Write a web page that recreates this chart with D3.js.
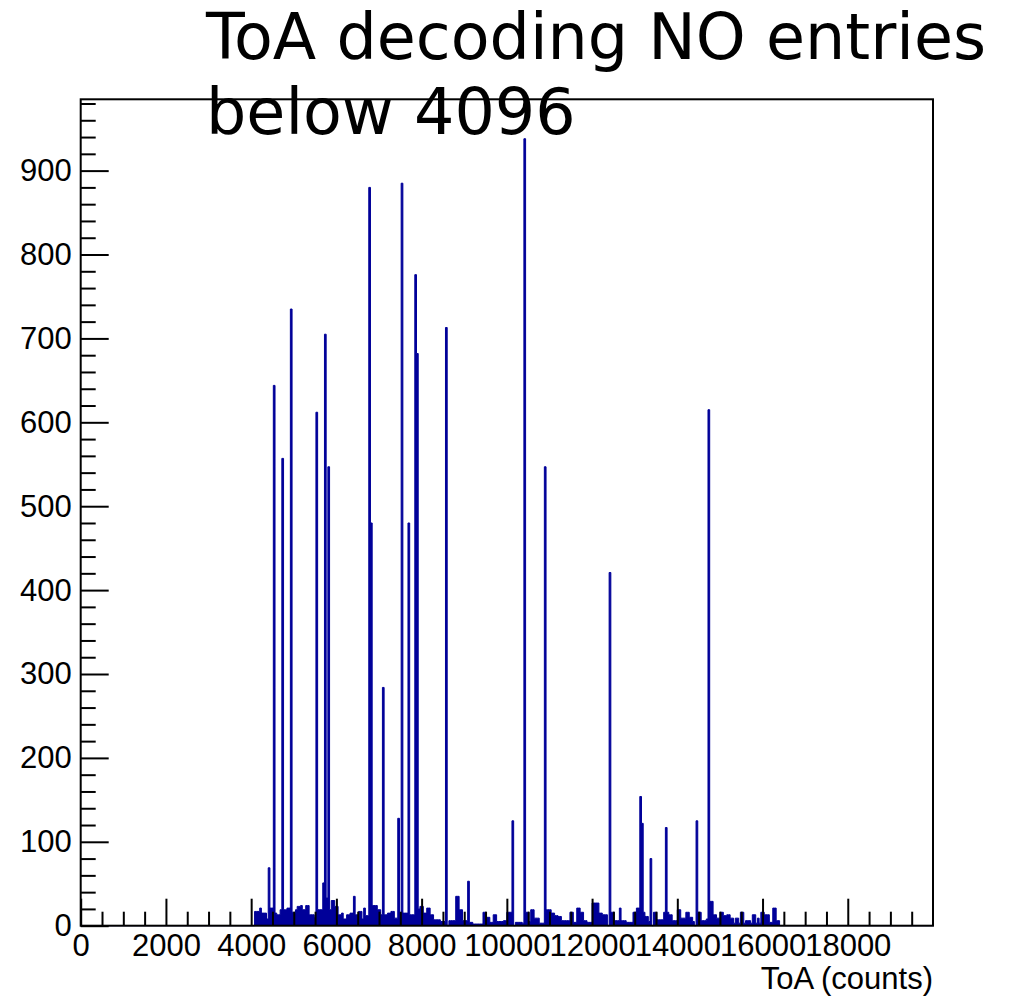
<!DOCTYPE html>
<html>
<head>
<meta charset="utf-8">
<script src="https://cdn.jsdelivr.net/npm/d3@7"></script>
<style>
  html, body { margin: 0; padding: 0; background: #fff; }
  svg { display: block; }
</style>
</head>
<body>
<div id="chart"></div>
<script>
// ---------------- data ----------------
const titleLines = ["ToA decoding NO entries", "below 4096"];
const xAxisTitle = "ToA (counts)";
const xRange = [0, 20000];
const yRange = [0, 985];
const binWidth = 40;
const xMajorTicks = [0, 2000, 4000, 6000, 8000, 10000, 12000, 14000, 16000, 18000];
const yMajorTicks = [0, 100, 200, 300, 400, 500, 600, 700, 800, 900];

// Prominent peaks: [ToA count, entries]
const peaks = [
  [4419, 69], [4520, 644], [4732, 557], [4943, 735], [5523, 612], [5694, 51],
  [5727, 705], [5828, 547], [6774, 880], [6820, 480], [7088, 284], [7455, 128],
  [7557, 885], [7712, 480], [7870, 776], [7910, 682], [8590, 713], [9114, 53],
  [10153, 125], [10428, 938], [10899, 547], [12406, 421], [13143, 154],
  [13181, 122], [13392, 80], [13753, 117], [14441, 125], [14746, 615]
];

// Low-level background: [from count, to count, entries]
const noise = [
  [4090, 4208, 17], [4208, 4255, 21], [4255, 4349, 15], [4349, 4389, 8], [4389, 4440, 19],
  [4440, 4560, 21], [4560, 4620, 15], [4620, 4680, 13], [4680, 4750, 19], [4750, 4850, 19],
  [4850, 4960, 21], [4960, 5030, 16], [5030, 5100, 19], [5100, 5150, 23], [5150, 5210, 24],
  [5210, 5280, 19], [5280, 5300, 10], [5300, 5380, 24], [5380, 5480, 13], [5480, 5580, 10],
  [5580, 5680, 19], [5730, 5810, 33], [5810, 5890, 19], [5890, 5970, 30], [5970, 6050, 23],
  [6050, 6130, 13], [6130, 6180, 15], [6180, 6240, 8], [6240, 6320, 13], [6320, 6400, 15],
  [6400, 6440, 35], [6440, 6520, 13], [6520, 6600, 17], [6600, 6640, 8], [6640, 6700, 21],
  [6700, 6760, 12], [6840, 6950, 24], [6950, 7030, 19], [7030, 7080, 13], [7120, 7220, 13],
  [7220, 7300, 15], [7300, 7380, 17], [7380, 7440, 9], [7480, 7540, 15], [7580, 7690, 15],
  [7730, 7840, 13], [7930, 7960, 20], [7960, 8040, 23], [8040, 8120, 15], [8120, 8200, 21],
  [8200, 8280, 13], [8280, 8430, 7], [8430, 8560, 5], [8630, 8820, 6], [8820, 8880, 35],
  [8880, 8970, 19], [8970, 9090, 6], [9130, 9210, 4], [9210, 9450, 2], [9450, 9530, 16],
  [9530, 9600, 10], [9600, 9690, 4], [9690, 9760, 13], [9760, 9920, 5], [9920, 10000, 6],
  [10000, 10120, 16], [10200, 10350, 4], [10350, 10400, 3], [10460, 10540, 16],
  [10540, 10580, 5], [10580, 10660, 19], [10660, 10780, 9], [10780, 10880, 3],
  [10940, 11055, 19], [11055, 11130, 15], [11130, 11210, 12], [11210, 11290, 11],
  [11290, 11480, 6], [11480, 11560, 16], [11560, 11640, 4], [11640, 11720, 21],
  [11720, 11800, 16], [11800, 11880, 6], [11880, 12000, 4], [12000, 12150, 27],
  [12150, 12230, 15], [12230, 12260, 4], [12260, 12350, 13], [12440, 12540, 16],
  [12540, 12640, 6], [12640, 12700, 21], [12700, 12820, 6], [12820, 12970, 4],
  [12970, 13060, 16], [13060, 13120, 21], [13200, 13240, 16], [13240, 13320, 11],
  [13320, 13380, 5], [13440, 13520, 16], [13520, 13680, 7], [13680, 13790, 16],
  [13790, 13870, 13], [13870, 13990, 6], [13990, 14100, 19], [14100, 14220, 9],
  [14220, 14300, 16], [14300, 14380, 10], [14380, 14420, 5], [14480, 14570, 16],
  [14570, 14690, 6], [14690, 14720, 8], [14760, 14850, 29], [14850, 14930, 13],
  [14930, 15000, 9], [15000, 15080, 16], [15080, 15160, 12], [15160, 15240, 13],
  [15240, 15320, 9], [15320, 15360, 3], [15360, 15430, 9], [15430, 15470, 3],
  [15470, 15550, 16], [15550, 15590, 3], [15590, 15710, 6], [15710, 15750, 3],
  [15750, 15830, 13], [15830, 15870, 3], [15870, 15940, 9], [15940, 15980, 3],
  [15980, 16060, 16], [16060, 16180, 13], [16180, 16240, 4], [16240, 16320, 21],
  [16320, 16400, 6]
];

// ---------------- build histogram bins ----------------
const nBins = Math.round((xRange[1] - xRange[0]) / binWidth);
const bins = d3.range(nBins).map(i => ({ lo: xRange[0] + i * binWidth, hi: xRange[0] + (i + 1) * binWidth, v: 0 }));
noise.forEach(([a, b, h]) => {
  bins.forEach(bn => {
    const c = (bn.lo + bn.hi) / 2;
    if (c >= a && c < b) bn.v = h;
  });
});
peaks.forEach(([c, h]) => {
  const i = Math.floor((c - xRange[0]) / binWidth);
  if (i >= 0 && i < nBins) bins[i].v = h;
});

// ---------------- layout ----------------
const W = 1010, H = 996;
const frame = { left: 80.7, right: 933, top: 99.3, bottom: 925.7 };

const x = d3.scaleLinear().domain(xRange).range([frame.left, frame.right]);
const y = d3.scaleLinear().domain(yRange).range([frame.bottom, frame.top]);

const svg = d3.select("#chart").append("svg")
  .attr("width", W).attr("height", H)
  .style("background", "#fff");

// title (drawn under the frame)
const title = svg.append("text")
  .attr("x", 206)
  .attr("font-family", "'DejaVu Sans', sans-serif")
  .attr("font-size", 63.5)
  .attr("fill", "#000");
title.selectAll("tspan").data(titleLines).join("tspan")
  .attr("x", 206)
  .attr("y", (d, i) => 59 + i * 75)
  .text(d => d);

// histogram
const pts = [];
pts.push([xRange[0], 0]);
bins.forEach(bn => { pts.push([bn.lo, bn.v]); pts.push([bn.hi, bn.v]); });
pts.push([xRange[1], 0]);

const area = d3.area()
  .x(d => x(d[0]))
  .y0(y(0))
  .y1(d => y(d[1]));
const line = d3.line()
  .x(d => x(d[0]))
  .y(d => y(d[1]));

const histColor = "#000099";
svg.append("path")
  .attr("d", area(pts))
  .attr("fill", histColor)
  .attr("stroke", "none");
svg.append("path")
  .attr("d", line(pts))
  .attr("fill", "none")
  .attr("stroke", histColor)
  .attr("stroke-width", 1)
  .attr("stroke-linejoin", "miter");

// axes
const labelFont = "'Liberation Sans', Arial, sans-serif";
const fmt = d => String(d);

const xMinor = d3.range(xRange[0], xRange[1], 500).filter(v => !xMajorTicks.includes(v));
const yMinor = d3.range(0, yRange[1], 20).filter(v => !yMajorTicks.includes(v));

const gx = svg.append("g").attr("transform", `translate(0,${frame.bottom})`);
gx.call(d3.axisBottom(x).tickValues(xMinor).tickSize(-14).tickFormat(""));
gx.append("g").call(d3.axisBottom(x).tickValues(xMajorTicks).tickSize(-27).tickPadding(8).tickFormat(fmt));

const gy = svg.append("g").attr("transform", `translate(${frame.left},0)`);
gy.call(d3.axisLeft(y).tickValues(yMinor).tickSize(-15).tickFormat(""));
gy.append("g").call(d3.axisLeft(y).tickValues(yMajorTicks).tickSize(-28).tickPadding(9).tickFormat(fmt));

svg.selectAll(".domain").remove();
svg.selectAll(".tick line").attr("stroke", "#000").attr("stroke-width", 2);
svg.selectAll(".tick text")
  .attr("font-family", labelFont)
  .attr("font-size", 31)
  .attr("fill", "#000");

// frame
svg.append("rect")
  .attr("x", frame.left).attr("y", frame.top)
  .attr("width", frame.right - frame.left)
  .attr("height", frame.bottom - frame.top)
  .attr("fill", "none")
  .attr("stroke", "#000")
  .attr("stroke-width", 2);

// x-axis title
svg.append("text")
  .attr("x", frame.right)
  .attr("y", 989)
  .attr("text-anchor", "end")
  .attr("font-family", labelFont)
  .attr("font-size", 31)
  .attr("fill", "#000")
  .text(xAxisTitle);
</script>
</body>
</html>
